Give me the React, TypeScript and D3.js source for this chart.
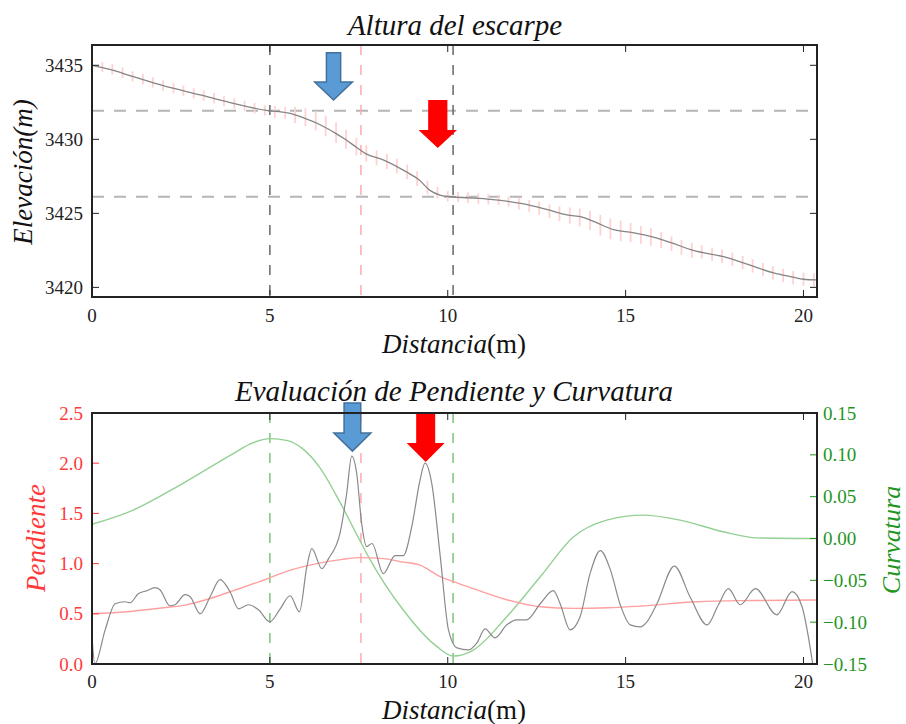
import React from "react";
import * as d3 from "d3";

// ---------- DATA ----------
const X_TICKS = [0, 5, 10, 15, 20];
const ELEV_TICKS = [3420, 3425, 3430, 3435];
const PEND_TICKS = [0, 0.5, 1.0, 1.5, 2.0, 2.5];
const CURV_TICKS = [-0.15, -0.1, -0.05, 0, 0.05, 0.1, 0.15];

// smoothed elevation profile (m)
const PROFILE_X = [0, 0.5, 1.16, 2.0, 3.04, 3.97, 4.9, 5.5, 5.95, 6.4, 6.85, 7.15, 7.44, 7.72, 8.2, 8.8, 9.2, 9.5, 9.8, 10.1, 10.6, 11.2, 12.1, 12.8, 13.35, 13.85, 14.2, 14.66, 15.2, 15.78, 16.3, 16.9, 17.75, 18.5, 19.16, 19.7, 20.0, 20.38];
const PROFILE_E = [3435.0, 3434.72, 3434.23, 3433.62, 3433.0, 3432.43, 3431.95, 3431.78, 3431.45, 3431.0, 3430.4, 3429.95, 3429.45, 3429.0, 3428.6, 3427.85, 3427.25, 3426.55, 3426.22, 3426.12, 3426.05, 3425.95, 3425.65, 3425.25, 3424.9, 3424.7, 3424.35, 3423.9, 3423.7, 3423.4, 3423.0, 3422.5, 3422.07, 3421.5, 3420.98, 3420.7, 3420.55, 3420.5];

// measured samples with uncertainty (error bars)
const ERR_X = [0, 0.29, 0.57, 0.86, 1.14, 1.43, 1.71, 2.0, 2.29, 2.57, 2.86, 3.14, 3.43, 3.71, 4.0, 4.29, 4.57, 4.86, 5.14, 5.43, 5.71, 6.0, 6.29, 6.57, 6.86, 7.14, 7.43, 7.71, 8.0, 8.29, 8.57, 8.86, 9.14, 9.43, 9.71, 10.0, 10.29, 10.57, 10.86, 11.14, 11.43, 11.71, 12.0, 12.29, 12.57, 12.86, 13.14, 13.43, 13.71, 14.0, 14.29, 14.57, 14.86, 15.14, 15.43, 15.71, 16.0, 16.29, 16.57, 16.86, 17.14, 17.43, 17.71, 18.0, 18.29, 18.57, 18.86, 19.14, 19.43, 19.71, 20.0, 20.29];
const ERR_Y = [3435.0, 3434.88, 3434.72, 3434.5, 3434.25, 3434.05, 3433.85, 3433.62, 3433.45, 3433.28, 3433.1, 3432.95, 3432.78, 3432.6, 3432.42, 3432.25, 3432.1, 3431.95, 3431.85, 3431.78, 3431.65, 3431.5, 3431.25, 3430.9, 3430.45, 3430.0, 3429.5, 3429.05, 3428.75, 3428.5, 3428.2, 3427.8, 3427.35, 3426.75, 3426.4, 3426.15, 3426.1, 3426.05, 3426.0, 3425.95, 3425.9, 3425.8, 3425.65, 3425.5, 3425.35, 3425.15, 3424.98, 3424.85, 3424.72, 3424.52, 3424.2, 3423.95, 3423.82, 3423.7, 3423.55, 3423.4, 3423.2, 3422.95, 3422.7, 3422.5, 3422.4, 3422.25, 3422.1, 3421.9, 3421.68, 3421.45, 3421.2, 3420.98, 3420.8, 3420.65, 3420.55, 3420.5];
const ERR_H = [0.35, 0.35, 0.35, 0.35, 0.35, 0.35, 0.35, 0.35, 0.35, 0.35, 0.35, 0.35, 0.35, 0.35, 0.35, 0.35, 0.35, 0.35, 0.4, 0.4, 0.55, 0.6, 0.65, 0.7, 0.7, 0.65, 0.6, 0.55, 0.5, 0.5, 0.5, 0.5, 0.5, 0.45, 0.4, 0.35, 0.35, 0.35, 0.35, 0.35, 0.35, 0.35, 0.4, 0.4, 0.45, 0.45, 0.5, 0.55, 0.6, 0.65, 0.7, 0.7, 0.7, 0.65, 0.6, 0.6, 0.55, 0.5, 0.5, 0.5, 0.45, 0.45, 0.45, 0.45, 0.45, 0.45, 0.45, 0.45, 0.45, 0.45, 0.45, 0.45];

// raw slope (black)
const SLOPE_X = [0, 0.08, 0.37, 0.65, 0.93, 1.07, 1.3, 1.54, 1.77, 1.91, 2.19, 2.33, 2.62, 2.76, 3.04, 3.32, 3.6, 3.88, 4.12, 4.4, 4.68, 5.0, 5.29, 5.57, 5.83, 6.04, 6.18, 6.46, 6.65, 6.97, 7.16, 7.3, 7.44, 7.58, 7.72, 7.87, 8.19, 8.52, 8.75, 8.99, 9.22, 9.36, 9.55, 9.79, 10.02, 10.26, 10.58, 10.82, 11.05, 11.33, 11.66, 11.94, 12.22, 12.6, 12.97, 13.16, 13.44, 13.72, 14.0, 14.29, 14.57, 14.85, 15.13, 15.41, 15.6, 15.88, 16.37, 16.81, 17.29, 17.61, 17.89, 18.22, 18.65, 19.25, 19.68, 19.96, 20.26];
const SLOPE_P = [0.27, 0.0, 0.34, 0.6, 0.62, 0.61, 0.7, 0.73, 0.76, 0.74, 0.58, 0.59, 0.69, 0.67, 0.5, 0.67, 0.84, 0.72, 0.55, 0.59, 0.54, 0.42, 0.55, 0.68, 0.52, 0.97, 1.15, 0.95, 1.05, 1.3, 1.7, 2.07, 1.9, 1.4, 1.17, 1.2, 0.9, 1.08, 1.08, 1.37, 1.83, 2.0, 1.8, 1.07, 0.34, 0.16, 0.14, 0.21, 0.35, 0.26, 0.39, 0.44, 0.44, 0.6, 0.73, 0.6, 0.34, 0.47, 0.9, 1.13, 0.94, 0.59, 0.39, 0.37, 0.42, 0.6, 0.975, 0.67, 0.39, 0.59, 0.75, 0.59, 0.75, 0.49, 0.72, 0.57, 0.0];

// smoothed slope (red)
const SMOOTH_X = [0, 1.0, 2.0, 2.62, 3.3, 4.02, 4.96, 5.43, 6.32, 7.0, 7.54, 8.2, 8.66, 9.22, 9.79, 10.16, 10.72, 11.66, 12.6, 13.54, 14.5, 15.41, 17.0, 18.5, 20.38];
const SMOOTH_P = [0.5, 0.52, 0.56, 0.587, 0.65, 0.736, 0.853, 0.918, 1.0, 1.04, 1.06, 1.05, 1.02, 0.985, 0.87, 0.82, 0.75, 0.64, 0.57, 0.554, 0.56, 0.577, 0.62, 0.632, 0.637];

// curvature (green, right axis)
const CURV_X = [0, 1.16, 2.56, 3.97, 4.5, 5.0, 5.5, 5.9, 6.4, 7.0, 7.5, 7.8, 8.75, 9.69, 10.16, 10.72, 11.66, 12.6, 13.54, 14.47, 15.5, 16.53, 17.75, 18.69, 20.38];
const CURV_C = [0.017, 0.034, 0.066, 0.1015, 0.114, 0.1194, 0.117, 0.108, 0.085, 0.041, 0.0, -0.024, -0.0855, -0.129, -0.1405, -0.1333, -0.0935, -0.0458, 0.002, 0.0219, 0.0279, 0.0219, 0.008, 0.0008, 0.0];

// reference lines
const TOP_HLINES = [3431.93, 3426.12];
const TOP_VLINES_GRAY = [5, 10.15];
const VLINE_RED = 7.56;
const BOT_VLINES_GREEN = [5, 10.15];

// arrow annotations (data coordinates)
const TOP_ARROWS = [
  { x: 6.79, top: 3435.85, neck: 3433.87, tip: 3432.66, shaft: 0.2, head: 0.53, kind: "blue" },
  { x: 9.72, top: 3432.66, neck: 3430.63, tip: 3429.41, shaft: 0.27, head: 0.54, kind: "red" },
];
const BOT_ARROWS = [
  { x: 7.32, top: 2.6, neck: 2.3, tip: 2.12, shaft: 0.234, head: 0.52, kind: "blue" },
  { x: 9.38, top: 2.5, neck: 2.2, tip: 2.013, shaft: 0.267, head: 0.534, kind: "red" },
];

// ---------- LAYOUT ----------
const W = 906, H = 724;
const L = 92, R = 817;
const T1 = 45, B1 = 297;
const T2 = 413, B2 = 664;
const FONT = "'Liberation Serif', 'DejaVu Serif', serif";
const RED = "#ff3a3a";
const GREEN = "#1f961f";
const TICK_FS = 19;

export default function App() {
  const x = d3.scaleLinear().domain([0, 20.38]).range([L, R]);
  const yE = d3.scaleLinear().domain([3419.35, 3436.37]).range([B1, T1]);
  const yP = d3.scaleLinear().domain([0, 2.5]).range([B2, T2]);
  const yC = d3.scaleLinear().domain([-0.15, 0.15]).range([B2, T2]);

  const mk = (xs: number[], ys: number[], ys2: (v: number) => number) =>
    d3.line<number>().x((_, i) => x(xs[i])).y((v) => ys2(v)).curve(d3.curveMonotoneX)(ys) || "";

  const profPath = mk(PROFILE_X, PROFILE_E, yE);
  const slopePath = mk(SLOPE_X, SLOPE_P, yP);
  const smoothPath = mk(SMOOTH_X, SMOOTH_P, yP);
  const curvPath = mk(CURV_X, CURV_C, yC);

  const arrowPath = (a: any, ys: (v: number) => number) => {
    const pts: [number, number][] = [
      [x(a.x - a.shaft), ys(a.top)],
      [x(a.x + a.shaft), ys(a.top)],
      [x(a.x + a.shaft), ys(a.neck)],
      [x(a.x + a.head), ys(a.neck)],
      [x(a.x), ys(a.tip)],
      [x(a.x - a.head), ys(a.neck)],
      [x(a.x - a.shaft), ys(a.neck)],
    ];
    return "M" + pts.map((p) => p.join(",")).join("L") + "Z";
  };
  const arrowStyle = (k: string) =>
    k === "blue"
      ? { fill: "#5b9bd5", stroke: "#41719c", strokeWidth: 1.5 }
      : { fill: "#ff0000", stroke: "none", strokeWidth: 0 };

  const TL = 7;
  const fmt1 = d3.format(".1f");
  const fmtC = (v: number) => (v < 0 ? "\u2212" : "") + d3.format(".2f")(Math.abs(v));

  return (
    <svg width={W} height={H} style={{ position: "absolute", left: 0, top: 0, background: "#fff" }} fontFamily={FONT}>
      <defs>
        <clipPath id="c1"><rect x={L} y={T1} width={R - L} height={B1 - T1} /></clipPath>
        <clipPath id="c2"><rect x={L} y={T2} width={R - L} height={B2 - T2} /></clipPath>
      </defs>

      {/* ---------------- TOP CHART ---------------- */}
      <text x={455} y={35} textAnchor="middle" fontSize={29} fontStyle="italic" fill="#111">Altura del escarpe</text>
      <g clipPath="url(#c1)">
        {TOP_HLINES.map((v, i) => (
          <line key={"h" + i} x1={L} x2={R} y1={yE(v)} y2={yE(v)} stroke="#b5b5b5" strokeWidth={2} strokeDasharray="12,10" />
        ))}
        {TOP_VLINES_GRAY.map((v, i) => (
          <line key={"v" + i} x1={x(v)} x2={x(v)} y1={T1} y2={B1} stroke="#666" strokeWidth={1.5} strokeDasharray="10,10" />
        ))}
        <line x1={x(VLINE_RED)} x2={x(VLINE_RED)} y1={T1} y2={B1} stroke="#ffaaaa" strokeWidth={1.5} strokeDasharray="10,10" />
        {ERR_X.map((v, i) => (
          <line key={"e" + i} x1={x(v)} x2={x(v)} y1={yE(ERR_Y[i] - ERR_H[i])} y2={yE(ERR_Y[i] + ERR_H[i])} stroke="#ffd2d2" strokeWidth={1.8} />
        ))}
        <path d={profPath} fill="none" stroke="#858585" strokeWidth={1.3} />
      </g>
      {TOP_ARROWS.map((a, i) => (
        <path key={"ta" + i} d={arrowPath(a, yE)} {...arrowStyle(a.kind)} />
      ))}
      {X_TICKS.map((t) => (
        <g key={"xt1" + t}>
          <line x1={x(t)} x2={x(t)} y1={B1} y2={B1 - TL} stroke="#222" strokeWidth={1} />
          <line x1={x(t)} x2={x(t)} y1={T1} y2={T1 + TL} stroke="#222" strokeWidth={1} />
          <text x={x(t)} y={322} textAnchor="middle" fontSize={TICK_FS} fill="#222">{t}</text>
        </g>
      ))}
      {ELEV_TICKS.map((t) => (
        <g key={"yt1" + t}>
          <line x1={L} x2={L + TL} y1={yE(t)} y2={yE(t)} stroke="#222" strokeWidth={1} />
          <line x1={R} x2={R - TL} y1={yE(t)} y2={yE(t)} stroke="#222" strokeWidth={1} />
          <text x={83} y={yE(t) + 6.5} textAnchor="end" fontSize={TICK_FS} fill="#222">{t}</text>
        </g>
      ))}
      <rect x={L} y={T1} width={R - L} height={B1 - T1} fill="none" stroke="#222" strokeWidth={2} />
      <text x={454} y={353} textAnchor="middle" fontSize={27} fill="#111">
        <tspan fontStyle="italic">Distancia</tspan>(m)
      </text>
      <text transform={`translate(32,${(T1 + B1) / 2 + 1}) rotate(-90)`} textAnchor="middle" fontSize={27} fill="#111">
        <tspan fontStyle="italic">Elevación(m)</tspan>
      </text>

      {/* ---------------- BOTTOM CHART ---------------- */}
      <text x={454} y={401} textAnchor="middle" fontSize={29} fontStyle="italic" fill="#111">Evaluación de Pendiente y Curvatura</text>
      <g clipPath="url(#c2)">
        {BOT_VLINES_GREEN.map((v, i) => (
          <line key={"g" + i} x1={x(v)} x2={x(v)} y1={T2} y2={B2} stroke="#7cc47c" strokeWidth={1.5} strokeDasharray="10,10" />
        ))}
        <line x1={x(VLINE_RED)} x2={x(VLINE_RED)} y1={T2} y2={B2} stroke="#ffaaaa" strokeWidth={1.5} strokeDasharray="10,10" />
        <path d={curvPath} fill="none" stroke="#94d094" strokeWidth={1.4} />
        <path d={smoothPath} fill="none" stroke="#ffa0a0" strokeWidth={1.4} />
        <path d={slopePath} fill="none" stroke="#8a8a8a" strokeWidth={1.2} />
      </g>
      {BOT_ARROWS.map((a, i) => (
        <path key={"ba" + i} d={arrowPath(a, yP)} {...arrowStyle(a.kind)} />
      ))}
      {X_TICKS.map((t) => (
        <g key={"xt2" + t}>
          <line x1={x(t)} x2={x(t)} y1={B2} y2={B2 - TL} stroke="#222" strokeWidth={1} />
          <line x1={x(t)} x2={x(t)} y1={T2} y2={T2 + TL} stroke="#222" strokeWidth={1} />
          <text x={x(t)} y={688} textAnchor="middle" fontSize={TICK_FS} fill="#222">{t}</text>
        </g>
      ))}
      {PEND_TICKS.map((t) => (
        <g key={"yp" + t}>
          <line x1={L} x2={L + TL} y1={yP(t)} y2={yP(t)} stroke={RED} strokeWidth={1} />
          <text x={83} y={yP(t) + 6.5} textAnchor="end" fontSize={TICK_FS} fill={RED}>{fmt1(t)}</text>
        </g>
      ))}
      {CURV_TICKS.map((t) => (
        <g key={"yc" + t}>
          <line x1={R} x2={R - TL} y1={yC(t)} y2={yC(t)} stroke={GREEN} strokeWidth={1} />
          <text x={823} y={yC(t) + 6.5} textAnchor="start" fontSize={TICK_FS} fill={GREEN}>{fmtC(t)}</text>
        </g>
      ))}
      <rect x={L} y={T2} width={R - L} height={B2 - T2} fill="none" stroke="#222" strokeWidth={2} />
      <text x={454} y={719} textAnchor="middle" fontSize={27} fill="#111">
        <tspan fontStyle="italic">Distancia</tspan>(m)
      </text>
      <text transform={`translate(45,538) rotate(-90)`} textAnchor="middle" fontSize={27} fontStyle="italic" fill={RED}>Pendiente</text>
      <text transform={`translate(900,540) rotate(-90)`} textAnchor="middle" fontSize={26} fontStyle="italic" fill={GREEN}>Curvatura</text>
    </svg>
  );
}
